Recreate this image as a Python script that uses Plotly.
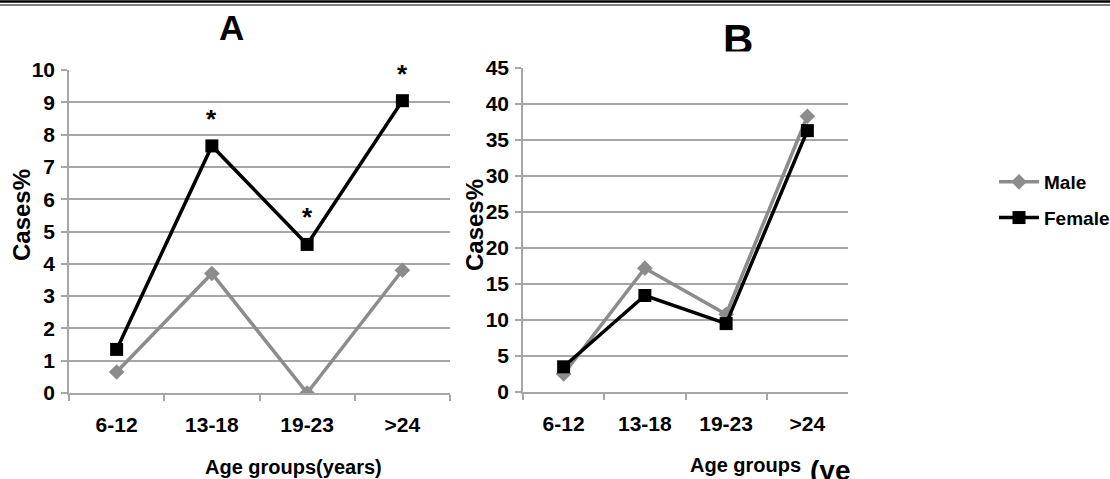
import plotly.graph_objects as go

categories = ["6-12", "13-18", "19-23", ">24"]

# Panel A (Cases%)
a_male = [0.65, 3.7, 0.0, 3.8]
a_female = [1.35, 7.65, 4.6, 9.05]
a_star = ["", "*", "*", "*"]

# Panel B (Cases%)
b_male = [2.5, 17.2, 10.8, 38.3]
b_female = [3.5, 13.4, 9.5, 36.3]

W, H = 1110, 479
FONT = "Liberation Sans, Arial"
MALE_C = "#8c8c8c"
GRID_C = "#a6a6a6"

def px_x(p):
    return p / W

def px_y(p):
    return 1 - p / H

fig = go.Figure()

fig.add_trace(go.Scatter(x=categories, y=a_male, mode="lines+markers", name="Male",
                         line=dict(color=MALE_C, width=3.5),
                         marker=dict(symbol="diamond", size=12, color=MALE_C),
                         xaxis="x", yaxis="y", legendgroup="m"))
fig.add_trace(go.Scatter(x=categories, y=a_female, mode="lines+markers", name="Female",
                         line=dict(color="black", width=3.5),
                         marker=dict(symbol="square", size=13, color="black"),
                         xaxis="x", yaxis="y", legendgroup="f"))
fig.add_trace(go.Scatter(x=categories, y=b_male, mode="lines+markers", name="Male",
                         line=dict(color=MALE_C, width=3.5),
                         marker=dict(symbol="diamond", size=12, color=MALE_C),
                         xaxis="x2", yaxis="y2", legendgroup="m", showlegend=False))
fig.add_trace(go.Scatter(x=categories, y=b_female, mode="lines+markers", name="Female",
                         line=dict(color="black", width=3.5),
                         marker=dict(symbol="square", size=13, color="black"),
                         xaxis="x2", yaxis="y2", legendgroup="f", showlegend=False))

tickfont = dict(family=FONT, size=21, color="black", weight="bold")

xcommon = dict(type="category", range=[-0.5, 3.5], tickson="boundaries",
               ticks="outside", ticklen=6, tickcolor=GRID_C, tickwidth=1.5,
               showline=True, linecolor=GRID_C, linewidth=1.5,
               showgrid=False, tickfont=tickfont, ticklabelstandoff=12,
               zeroline=False, fixedrange=True, automargin=False)
ycommon = dict(ticks="outside", ticklen=6, tickcolor=GRID_C, tickwidth=1.5,
               showline=True, linecolor=GRID_C, linewidth=1.5,
               showgrid=True, gridcolor=GRID_C, gridwidth=1.5,
               tickfont=tickfont, zeroline=False, ticklabelstandoff=2,
               automargin=False, fixedrange=True)

annotations = []
for c, v, s in zip(categories, a_female, a_star):
    if s:
        annotations.append(dict(x=c, y=v, xref="x", yref="y", text="<b>*</b>",
                                showarrow=False, yshift=27,
                                font=dict(family="Liberation Sans", size=26, color="black")))

label_font = dict(family=FONT, size=20, color="black", weight="bold")

annotations += [
    dict(text="<b>A</b>", x=px_x(231), y=px_y(28), xref="paper", yref="paper",
         showarrow=False, font=dict(family=FONT, size=35, color="black"),
         xanchor="center", yanchor="middle"),
    dict(text="<b>B</b>", x=px_x(738), y=px_y(39.5), xref="paper", yref="paper",
         showarrow=False, font=dict(family=FONT, size=42, color="black"),
         xanchor="center", yanchor="middle"),
    # white box cropping the lower part of "B", as in the source image
    dict(text=" ", x=px_x(738), y=px_y(51), xref="paper", yref="paper",
         showarrow=False, bgcolor="white", width=48, height=12,
         xanchor="center", yanchor="top", font=dict(size=8)),
    dict(text="Cases%", x=px_x(22), y=px_y(215), xref="paper", yref="paper",
         showarrow=False, textangle=-90,
         font=dict(family=FONT, size=24, color="black", weight="bold"),
         xanchor="center", yanchor="middle"),
    dict(text="Cases%", x=px_x(474), y=px_y(225), xref="paper", yref="paper",
         showarrow=False, textangle=-90,
         font=dict(family=FONT, size=24, color="black", weight="bold"),
         xanchor="center", yanchor="middle"),
    dict(text="Age groups(years)", x=px_x(293), y=px_y(467), xref="paper", yref="paper",
         showarrow=False, font=label_font, xanchor="center", yanchor="middle"),
    dict(text="Age groups", x=px_x(803), y=px_y(465), xref="paper", yref="paper",
         showarrow=False, font=label_font, xanchor="right", yanchor="middle"),
    dict(text="<b>(ye</b>", x=px_x(808), y=px_y(453), xref="paper", yref="paper",
         showarrow=False, font=dict(family=FONT, size=28, color="black"),
         xanchor="left", yanchor="top"),
]

shapes = [
    dict(type="line", xref="paper", yref="paper", x0=0, x1=1,
         y0=px_y(1.5), y1=px_y(1.5), line=dict(color="black", width=2.5)),
    dict(type="line", xref="paper", yref="paper", x0=0, x1=1,
         y0=px_y(5), y1=px_y(5), line=dict(color="black", width=1)),
]

fig.update_layout(
    width=W, height=H,
    margin=dict(l=0, r=0, t=0, b=0, autoexpand=False),
    paper_bgcolor="white", plot_bgcolor="white",
    xaxis=dict(domain=[px_x(69), px_x(450)], anchor="y", **xcommon),
    yaxis=dict(domain=[px_y(393), px_y(70)], anchor="x", range=[0, 10], dtick=1, **ycommon),
    xaxis2=dict(domain=[px_x(523), px_x(848)], anchor="y2", **xcommon),
    yaxis2=dict(domain=[px_y(392), px_y(68)], anchor="x2", range=[0, 45], dtick=5, **ycommon),
    legend=dict(x=px_x(994), y=px_y(163), xanchor="left", yanchor="top",
                font=dict(family=FONT, size=19, color="black", weight="bold"),
                tracegroupgap=8, itemwidth=40, bgcolor="rgba(0,0,0,0)"),
    annotations=annotations,
    shapes=shapes,
    showlegend=True,
)

fig.write_html("out.html", config={"displayModeBar": False},
               post_script="document.body.style.margin='0';document.body.style.padding='0';")
